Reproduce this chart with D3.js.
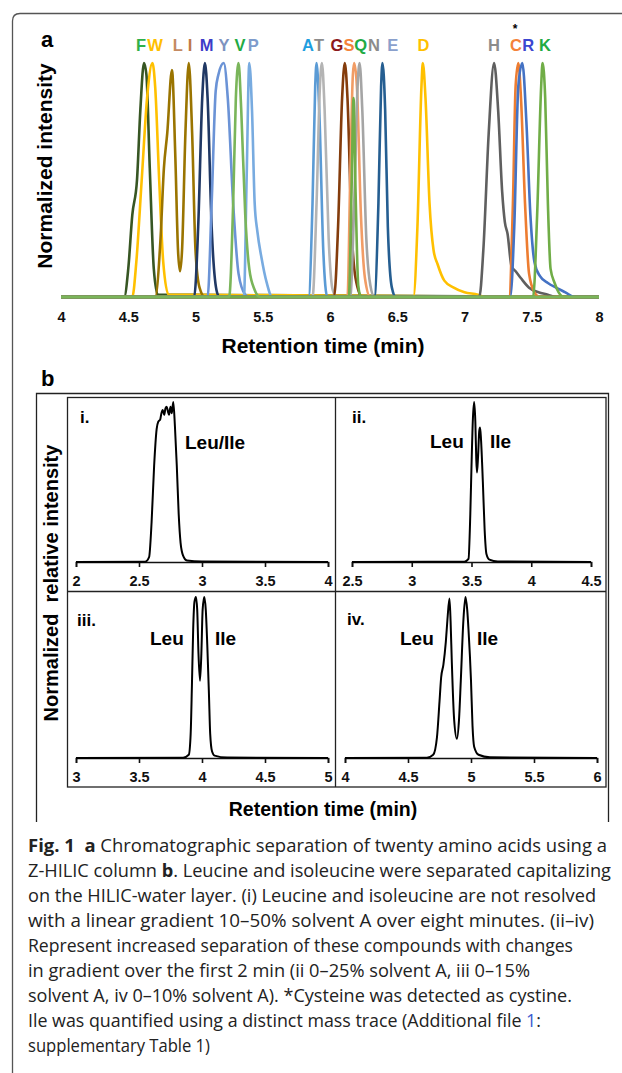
<!DOCTYPE html>
<html>
<head>
<meta charset="utf-8">
<script src="https://cdn.jsdelivr.net/npm/d3@7"></script>
<style>
  body { margin: 0; background: #fff; }
  svg { display: block; }
  text { white-space: pre; }
</style>
</head>
<body>
<svg id="fig" width="622" height="1073"></svg>
<script>
// ---- panel a : peak labels ----
const aminoLabels = ['F','W','L','I','M','Y','V','P','A','T','G','S','Q','N','E','D','H','C','R','K'];
const labelTimes = [4.595,4.699,4.868,4.959,5.083,5.212,5.331,5.430,5.836,5.918,6.052,6.141,6.228,6.327,6.466,6.694,7.219,7.383,7.474,7.599];
const xTicksA = [4, 4.5, 5, 5.5, 6, 6.5, 7, 7.5, 8];

// ---- panel a : traces [time, normalized intensity] ----
const traceF = [[4,0],[4.47,0],[4.50,0.12],[4.53,0.35],[4.565,0.5],[4.59,0.8],[4.617,1],[4.635,0.95],[4.66,0.55],[4.69,0.12],[4.72,0.01],[8,0]];
const traceW = [[4,0],[4.53,0],[4.56,0.15],[4.60,0.5],[4.64,0.85],[4.68,1],[4.70,0.9],[4.73,0.5],[4.76,0.15],[4.80,0.01],[8,0]];
const traceLI = [[4,0],[4.70,0],[4.74,0.25],[4.765,0.55],[4.79,0.7],[4.825,0.97],[4.85,0.6],[4.87,0.2],[4.885,0.11],[4.90,0.2],[4.925,0.7],[4.95,1],[4.975,0.7],[5.0,0.2],[5.03,0.04],[5.07,0],[8,0]];
const traceM = [[4,0],[4.99,0],[5.02,0.3],[5.05,0.85],[5.07,1],[5.09,0.85],[5.12,0.3],[5.16,0.02],[5.18,0],[8,0]];
const traceY = [[4,0],[5.09,0],[5.12,0.4],[5.15,0.88],[5.17,0.95],[5.21,1],[5.24,0.85],[5.28,0.4],[5.32,0.1],[5.37,0.01],[5.40,0],[8,0]];
const traceV = [[4,0],[5.25,0],[5.28,0.4],[5.30,0.85],[5.32,1],[5.34,0.8],[5.37,0.35],[5.40,0.12],[5.44,0.03],[5.48,0],[8,0]];
const traceP = [[4,0],[5.36,0],[5.38,0.5],[5.40,1],[5.42,0.8],[5.44,0.4],[5.46,0.28],[5.49,0.17],[5.53,0.06],[5.57,0],[8,0]];
const traceA = [[4,0],[5.84,0],[5.87,0.4],[5.89,0.9],[5.90,1],[5.92,0.8],[5.95,0.2],[5.98,0],[8,0]];
const traceT = [[4,0],[5.87,0],[5.90,0.4],[5.925,0.9],[5.94,1],[5.96,0.8],[5.99,0.25],[6.02,0.03],[6.05,0],[8,0]];
const traceG = [[4,0],[6.03,0],[6.06,0.3],[6.09,0.85],[6.11,1],[6.13,0.85],[6.16,0.3],[6.19,0.08],[6.24,0],[8,0]];
const traceS = [[4,0],[6.13,0],[6.15,0.5],[6.17,0.95],[6.18,1],[6.20,0.9],[6.23,0.35],[6.26,0.08],[6.30,0],[8,0]];
const traceQ = [[4,0],[6.14,0],[6.16,0.45],[6.175,0.85],[6.19,0.45],[6.21,0.05],[6.23,0],[8,0]];
const traceN = [[4,0],[6.15,0],[6.18,0.4],[6.205,0.9],[6.22,1],[6.24,0.8],[6.27,0.25],[6.30,0.05],[6.33,0],[8,0]];
const traceE = [[4,0],[6.33,0],[6.36,0.4],[6.38,0.9],[6.39,1],[6.41,0.8],[6.43,0.3],[6.46,0.04],[6.49,0],[8,0]];
const traceD = [[4,0],[6.62,0],[6.65,0.3],[6.68,0.9],[6.69,1],[6.71,0.85],[6.74,0.4],[6.77,0.2],[6.80,0.14],[6.85,0.07],[6.92,0.04],[7.0,0.02],[7.1,0.01],[7.15,0],[8,0]];
const traceH = [[4,0],[7.11,0],[7.14,0.2],[7.18,0.7],[7.22,1],[7.25,0.8],[7.28,0.45],[7.30,0.32],[7.32,0.27],[7.35,0.13],[7.38,0.11],[7.42,0.08],[7.48,0.04],[7.55,0.02],[7.62,0.01],[7.68,0],[8,0]];
const traceC = [[4,0],[7.33,0],[7.36,0.4],[7.38,0.9],[7.40,1],[7.42,0.85],[7.45,0.4],[7.48,0.1],[7.52,0.02],[7.56,0],[8,0]];
const traceR = [[4,0],[7.34,0],[7.37,0.3],[7.40,0.9],[7.43,1],[7.46,0.75],[7.49,0.35],[7.52,0.15],[7.56,0.09],[7.62,0.06],[7.68,0.04],[7.75,0.02],[7.82,0],[8,0]];
const traceK = [[4,0],[7.51,0],[7.54,0.35],[7.57,0.9],[7.58,1],[7.60,0.85],[7.62,0.4],[7.64,0.12],[7.67,0.06],[7.70,0.02],[7.74,0],[8,0]];

// drawing order (last on top)
const peakTraces = [
  ['F', traceF], ['W', traceW], ['LI', traceLI], ['M', traceM], ['Y', traceY], ['P', traceP],
  ['A', traceA], ['T', traceT], ['G', traceG], ['S', traceS], ['N', traceN], ['E', traceE],
  ['D', traceD], ['H', traceH], ['C', traceC], ['R', traceR], ['Q', traceQ], ['K', traceK], ['V', traceV]
];

// ---- panel b : Leu / Ile traces ----
const leuIle1 = [[2,0],[2.55,0.002],[2.58,0.03],[2.60,0.25],[2.62,0.6],[2.64,0.83],[2.653,0.877],[2.668,0.89],[2.678,0.93],[2.688,0.95],[2.70,0.92],[2.71,0.96],[2.72,0.97],[2.73,0.94],[2.738,0.92],[2.75,0.97],[2.76,0.93],[2.772,1.0],[2.785,0.85],[2.80,0.6],[2.815,0.3],[2.83,0.12],[2.85,0.04],[2.88,0.01],[3.0,0.003],[4,0]];
const leuIle2 = [[2.5,0],[3.44,0.002],[3.475,0.02],[3.49,0.3],[3.50,0.6],[3.512,0.9],[3.522,1.0],[3.532,0.88],[3.54,0.64],[3.546,0.56],[3.555,0.66],[3.565,0.82],[3.572,0.84],[3.58,0.76],[3.595,0.5],[3.61,0.2],[3.625,0.05],[3.65,0.015],[3.72,0.003],[4.5,0]];
const leuIle3 = [[3,0],[3.85,0.002],[3.895,0.02],[3.91,0.15],[3.92,0.45],[3.93,0.8],[3.94,0.97],[3.952,1.0],[3.962,0.92],[3.972,0.65],[3.984,0.48],[3.995,0.65],[4.005,0.92],[4.018,1.0],[4.03,0.92],[4.042,0.7],[4.055,0.4],[4.065,0.15],[4.08,0.04],[4.10,0.015],[4.2,0.003],[5,0]];
const leuIle4 = [[4,0],[4.65,0.002],[4.70,0.02],[4.73,0.13],[4.75,0.35],[4.763,0.5],[4.781,0.58],[4.80,0.72],[4.813,0.86],[4.829,0.99],[4.838,0.85],[4.848,0.59],[4.866,0.24],[4.888,0.12],[4.905,0.24],[4.919,0.48],[4.94,0.86],[4.956,1.0],[4.97,0.92],[4.98,0.8],[5.0,0.48],[5.012,0.2],[5.025,0.07],[5.06,0.02],[5.15,0.004],[6,0]];
const subDomains = [[2,4],[2.5,4.5],[3,5],[4,6]];
const subTicks = [[2,2.5,3,3.5,4],[2.5,3,3.5,4,4.5],[3,3.5,4,4.5,5],[4,4.5,5,5.5,6]];
const subNames = ['i.','ii.','iii.','iv.'];

// ---- caption ----
const captionLines = [
  [['Fig. 1', 'b'], ['  '], ['a', 'b'], [' Chromatographic separation of twenty amino acids using a']],
  [['Z-HILIC column '], ['b', 'b'], ['. Leucine and isoleucine were separated capitalizing']],
  [['on the HILIC-water layer. (i) Leucine and isoleucine are not resolved']],
  [['with a linear gradient 10–50% solvent A over eight minutes. (ii–iv)']],
  [['Represent increased separation of these compounds with changes']],
  [['in gradient over the first 2 min (ii 0–25% solvent A, iii 0–15%']],
  [['solvent A, iv 0–10% solvent A). *Cysteine was detected as cystine.']],
  [['Ile was quantified using a distinct mass trace (Additional file '], ['1', 'link'], [':']],
  [['supplementary Table 1)']]
];

// ---- styles ----
const labelColors = {F:'#2fb04a',W:'#ffc000',L:'#c48a62',I:'#c0784a',M:'#3c3cc8',Y:'#7d93bf',V:'#22aa44',P:'#7e9ccc',A:'#1e9ee0',T:'#8c8c8c',G:'#8c1a1a',S:'#f4823a',Q:'#22aa44',N:'#8c8c8c',E:'#8aa0cc',D:'#ffc000',H:'#8c8c8c',C:'#f4823a',R:'#3c46d0',K:'#22aa44'};
const traceColors = {F:'#375623',W:'#ffc000',LI:'#9a7400',M:'#203864',Y:'#6b93d6',V:'#7ab55a',P:'#78abe0',A:'#5b9bd5',T:'#b4b4b4',G:'#843c0c',S:'#f19c65',Q:'#70ad47',N:'#a5a5a5',E:'#255e91',D:'#ffc000',H:'#5f5f5f',C:'#ed7d31',R:'#4472c4',K:'#70ad47'};
const FONT = '"Liberation Sans", Arial, sans-serif';

const svg = d3.select('#fig');

// outer frame (rounded top-left corner)
svg.append('path')
  .attr('d', 'M12.5,1080 V21 Q12.5,13.5 20,13.5 H630')
  .attr('fill', 'none').attr('stroke', '#555').attr('stroke-width', 1.3);

// ================= panel a =================
const xA = d3.scaleLinear().domain([4, 8]).range([61, 599]);
const yA = d3.scaleLinear().domain([0, 1]).range([297, 63]);
const lineA = d3.line().x(d => xA(d[0])).y(d => yA(d[1])).curve(d3.curveMonotoneX);

const gA = svg.append('g');
gA.selectAll('path.trace')
  .data(peakTraces)
  .join('path')
  .attr('class', 'trace')
  .attr('d', d => lineA(d[1]))
  .attr('fill', 'none')
  .attr('stroke', d => traceColors[d[0]])
  .attr('stroke-width', 2.6)
  .attr('stroke-linejoin', 'round');

const axA = gA.append('g')
  .attr('transform', 'translate(0,297)')
  .call(d3.axisBottom(xA).tickValues(xTicksA).tickSize(0).tickPadding(15).tickFormat(d3.format('~g')));
axA.select('.domain').remove();
axA.selectAll('text').attr('font-family', FONT).attr('font-weight', 'bold').attr('font-size', 14.5).attr('fill', '#111');

gA.selectAll('text.aa')
  .data(aminoLabels)
  .join('text')
  .attr('class', 'aa')
  .attr('x', (d, i) => xA(labelTimes[i]))
  .attr('y', 51)
  .attr('text-anchor', 'middle')
  .attr('font-family', FONT).attr('font-weight', 'bold').attr('font-size', 16.5)
  .attr('fill', d => labelColors[d])
  .text(d => d);

gA.append('text')
  .attr('x', xA(labelTimes[aminoLabels.indexOf('C')]) - 1)
  .attr('y', 33)
  .attr('text-anchor', 'middle')
  .attr('font-family', FONT).attr('font-weight', 'bold').attr('font-size', 12)
  .text('*');

gA.append('text').attr('x', 41).attr('y', 47)
  .attr('font-family', FONT).attr('font-weight', 'bold').attr('font-size', 22).text('a');

gA.append('text').attr('x', 323).attr('y', 353).attr('text-anchor', 'middle')
  .attr('font-family', FONT).attr('font-weight', 'bold').attr('font-size', 21)
  .text('Retention time (min)');

gA.append('text').attr('transform', 'translate(52,166) rotate(-90)').attr('text-anchor', 'middle')
  .attr('font-family', FONT).attr('font-weight', 'bold').attr('font-size', 21)
  .text('Normalized intensity');

// ================= panel b =================
const gB = svg.append('g');
gB.append('text').attr('x', 41).attr('y', 386)
  .attr('font-family', FONT).attr('font-weight', 'bold').attr('font-size', 22).text('b');

gB.append('path')
  .attr('d', 'M36.5,822 V393.5 H608.5 V822')
  .attr('fill', 'none').attr('stroke', '#222').attr('stroke-width', 1.3);
gB.append('rect').attr('x', 67.5).attr('y', 397.5).attr('width', 538.5).attr('height', 389.5)
  .attr('fill', 'none').attr('stroke', '#222').attr('stroke-width', 1.3);
gB.append('line').attr('x1', 335.5).attr('x2', 335.5).attr('y1', 397.5).attr('y2', 787)
  .attr('stroke', '#222').attr('stroke-width', 1.3);
gB.append('line').attr('x1', 67.5).attr('x2', 606).attr('y1', 591.5).attr('y2', 591.5)
  .attr('stroke', '#222').attr('stroke-width', 1.3);

const subPanels = [
  {data: leuIle1, xr: [76, 328], yr: [562, 402]},
  {data: leuIle2, xr: [352, 591], yr: [562, 402]},
  {data: leuIle3, xr: [76, 328], yr: [758, 597]},
  {data: leuIle4, xr: [345, 597], yr: [758, 597]}
];
const subLabels = [
  {n: [80, 423], tags: [['Leu/Ile', 185, 449]]},
  {n: [352, 423], tags: [['Leu', 430, 448], ['Ile', 490, 448]]},
  {n: [77, 626], tags: [['Leu', 150, 645], ['Ile', 215, 645]]},
  {n: [347, 625], tags: [['Leu', 400, 645], ['Ile', 477, 645]]}
];

subPanels.forEach((p, i) => {
  const x = d3.scaleLinear().domain(subDomains[i]).range(p.xr);
  const y = d3.scaleLinear().domain([0, 1]).range(p.yr);
  const g = gB.append('g');
  const ax = g.append('g')
    .attr('transform', `translate(0,${p.yr[0]})`)
    .call(d3.axisBottom(x).tickValues(subTicks[i]).tickSize(5).tickSizeOuter(5).tickPadding(9).tickFormat(d3.format('~g')));
  ax.select('.domain').attr('stroke', '#111').attr('stroke-width', 1.6);
  ax.selectAll('.tick line').attr('stroke', '#111').attr('stroke-width', 1.6);
  ax.selectAll('text').attr('font-family', FONT).attr('font-weight', 'bold').attr('font-size', 14.5).attr('fill', '#111');
  g.append('path')
    .attr('d', d3.line().x(d => x(d[0])).y(d => y(d[1])).curve(d3.curveMonotoneX)(p.data))
    .attr('fill', 'none').attr('stroke', '#000').attr('stroke-width', 2).attr('stroke-linejoin', 'round');
  const lb = subLabels[i];
  g.append('text').attr('x', lb.n[0]).attr('y', lb.n[1])
    .attr('font-family', FONT).attr('font-weight', 'bold').attr('font-size', 17).text(subNames[i]);
  lb.tags.forEach(t => {
    g.append('text').attr('x', t[1]).attr('y', t[2])
      .attr('font-family', FONT).attr('font-weight', 'bold').attr('font-size', 19).text(t[0]);
  });
});

gB.append('text').attr('x', 323).attr('y', 816).attr('text-anchor', 'middle')
  .attr('font-family', FONT).attr('font-weight', 'bold').attr('font-size', 19.5)
  .text('Retention time (min)');

gB.append('text').attr('transform', 'translate(58,583) rotate(-90)').attr('text-anchor', 'middle')
  .attr('font-family', FONT).attr('font-weight', 'bold').attr('font-size', 20)
  .text('Normalized  relative intensity');

// ================= caption =================
// each line is fitted to where it ends in the original page layout
const capWidths = [579, 583, 568, 566, 545, 502, 544, 513, 182];
const cap = svg.append('g');
captionLines.forEach((segs, i) => {
  const t = cap.append('text')
    .attr('x', 28).attr('y', 852 + i * 25)
    .attr('font-family', '"Open Sans", "Noto Sans", sans-serif')
    .attr('font-size', 18).attr('fill', '#222')
    .attr('textLength', capWidths[i]).attr('lengthAdjust', 'spacingAndGlyphs');
  segs.forEach(s => {
    t.append('tspan')
      .attr('font-weight', s[1] === 'b' ? 'bold' : null)
      .attr('fill', s[1] === 'link' ? '#3b5bd0' : null)
      .text(s[0]);
  });
});
</script>
</body>
</html>
